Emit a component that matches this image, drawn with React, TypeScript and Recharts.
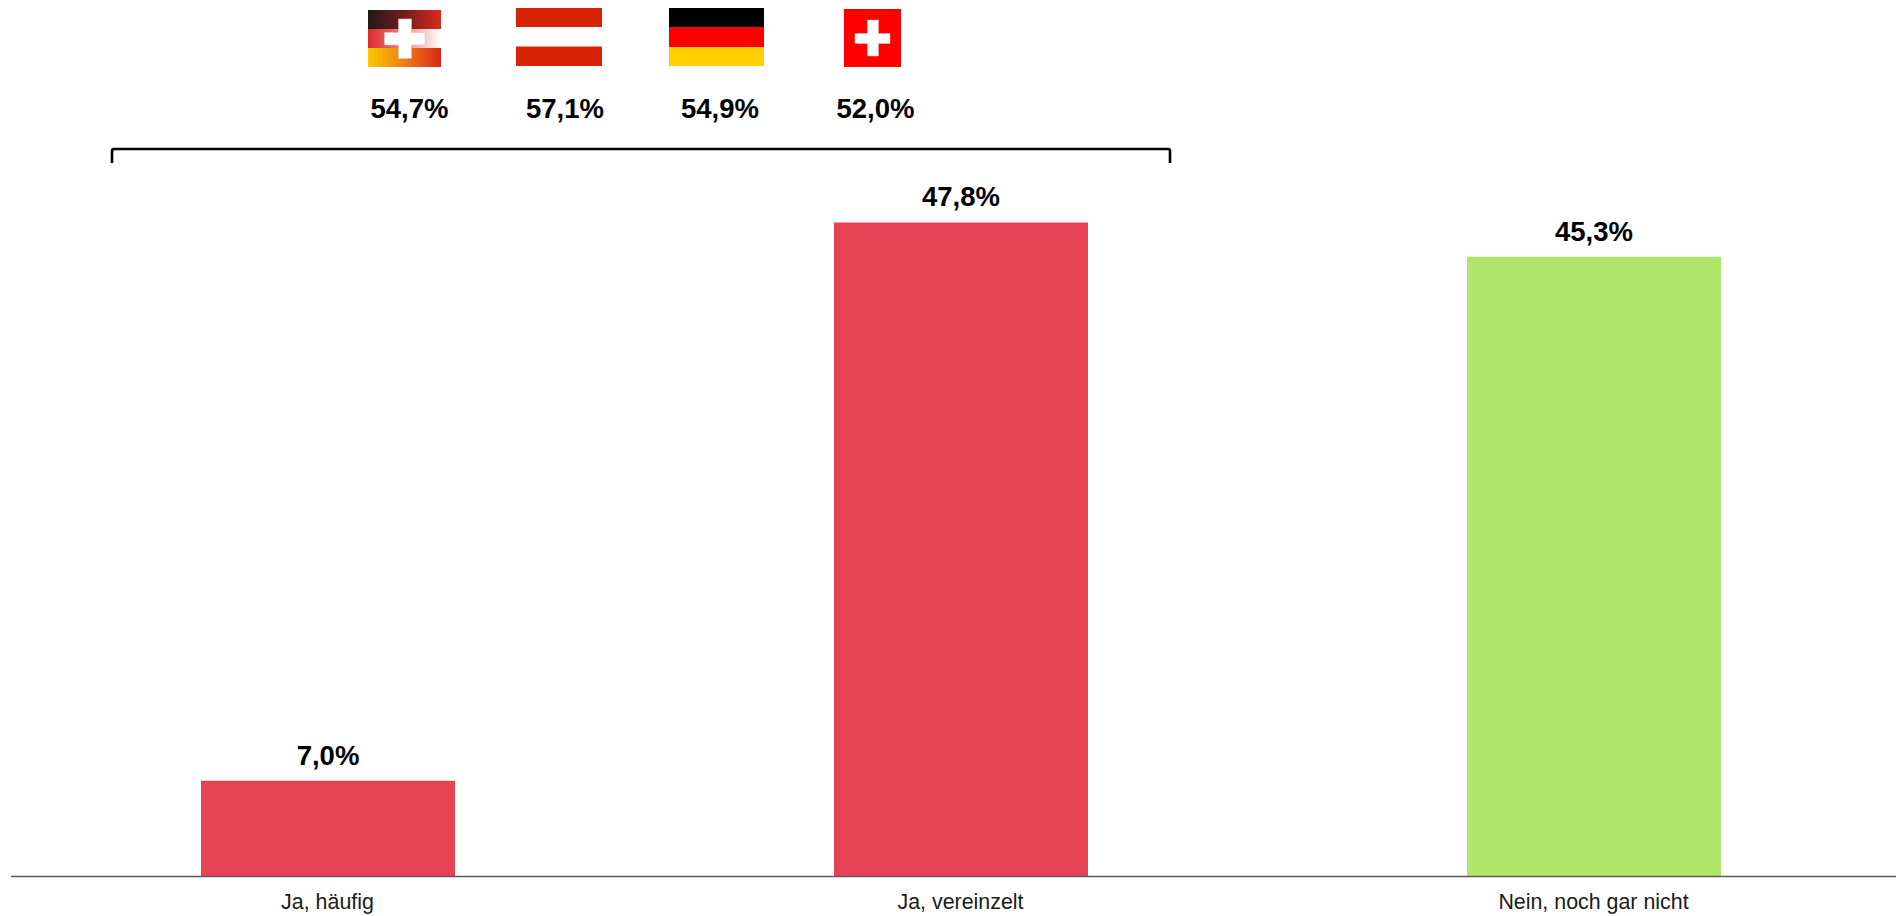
import { BarChart, Bar, Cell, LabelList, XAxis, YAxis } from "recharts";

const categories = ["Ja, häufig", "Ja, vereinzelt", "Nein, noch gar nicht"];
const shares = [7.0, 47.8, 45.3];
const barColors = ["#E74254", "#E74254", "#B2E66B"];

// "Ja" total per region, shown above the bracket
const regionShares = [54.7, 57.1, 54.9, 52.0];
const regionLabelCenters = [409.5, 565, 720, 875.5];

const FONT = "'Liberation Sans', Arial, sans-serif";

const data = categories.map((category, i) => ({ category, share: shares[i] }));

const formatShare = (value: number) => `${value.toFixed(1).replace(".", ",")}%`;

function Cross({ v, h }: { v: number[]; h: number[] }) {
  return (
    <g fill="#fff" stroke="#f4b9b0" strokeWidth={0.6}>
      <path
        d={`M${v[0]} ${v[2]}H${v[1]}V${h[2]}H${h[1]}V${h[3]}H${v[1]}V${v[3]}H${v[0]}V${h[3]}H${h[0]}V${h[2]}H${v[0]}Z`}
      />
    </g>
  );
}

function Flags() {
  return (
    <g>
      <defs>
        <linearGradient id="dachTop">
          <stop offset="0" stopColor="#231815" />
          <stop offset="0.5" stopColor="#6f1f1c" />
          <stop offset="1" stopColor="#dc2a1e" />
        </linearGradient>
        <linearGradient id="dachMid">
          <stop offset="0" stopColor="#e0282a" />
          <stop offset="0.35" stopColor="#e86a6a" />
          <stop offset="1" stopColor="#ffffff" />
        </linearGradient>
        <linearGradient id="dachBottom">
          <stop offset="0" stopColor="#fbc900" />
          <stop offset="0.5" stopColor="#ee7d10" />
          <stop offset="1" stopColor="#d9261c" />
        </linearGradient>
      </defs>

      {/* blended DACH flag */}
      <rect x={368} y={10} width={73} height={19} fill="url(#dachTop)" />
      <rect x={368} y={29} width={73} height={19} fill="url(#dachMid)" />
      <rect x={368} y={48} width={73} height={19} fill="url(#dachBottom)" />
      <Cross v={[398.5, 411.5, 19, 58.5]} h={[384.5, 425, 32.5, 45]} />

      {/* Austria */}
      <rect x={516} y={8} width={86} height={58} fill="#D92306" />
      <rect x={516} y={27} width={86} height={19.5} fill="#fff" />

      {/* Germany */}
      <rect x={669} y={8} width={95} height={19} fill="#000" />
      <rect x={669} y={27} width={95} height={20} fill="#FF0000" />
      <rect x={669} y={47} width={95} height={19} fill="#FFCF00" />

      {/* Switzerland */}
      <rect x={844} y={9} width={57} height={58} fill="#FF0000" />
      <Cross v={[867.5, 878.5, 20, 56]} h={[855, 890, 33.5, 43.5]} />
    </g>
  );
}

function RegionSummary() {
  return (
    <g>
      <Flags />
      {regionShares.map((value, i) => (
        <text
          key={i}
          x={regionLabelCenters[i]}
          y={118}
          textAnchor="middle"
          fontFamily={FONT}
          fontWeight={700}
          fontSize={27.5}
          fill="#000"
        >
          {formatShare(value)}
        </text>
      ))}
      <path
        d="M112 163V151Q112 149 114 149H1168Q1170 149 1170 151V163"
        fill="none"
        stroke="#000"
        strokeWidth={2.6}
      />
    </g>
  );
}

export default function App() {
  return (
    <div
      style={{
        position: "absolute",
        left: 0,
        top: 0,
        width: 1896,
        height: 916,
        overflow: "hidden",
        background: "#fff",
      }}
    >
      <BarChart
        width={1920}
        height={916}
        data={data}
        margin={{ top: 55.5, right: 10, bottom: 0, left: 11 }}
      >
        <XAxis
          dataKey="category"
          height={39.5}
          tickLine={false}
          axisLine={{ stroke: "#595959", strokeWidth: 1.5 }}
          tick={{ fill: "#1a1a1a", fontSize: 21.4, fontFamily: FONT }}
          tickMargin={11}
          interval={0}
        />
        <YAxis hide domain={[0, 60]} />
        <Bar dataKey="share" barSize={254} isAnimationActive={false}>
          {data.map((entry, i) => (
            <Cell key={entry.category} fill={barColors[i]} />
          ))}
          <LabelList
            dataKey="share"
            position="top"
            offset={16}
            formatter={formatShare}
            fill="#000"
            fontFamily={FONT}
            fontWeight={700}
            fontSize={27.5}
          />
        </Bar>
        <RegionSummary />
      </BarChart>
    </div>
  );
}
